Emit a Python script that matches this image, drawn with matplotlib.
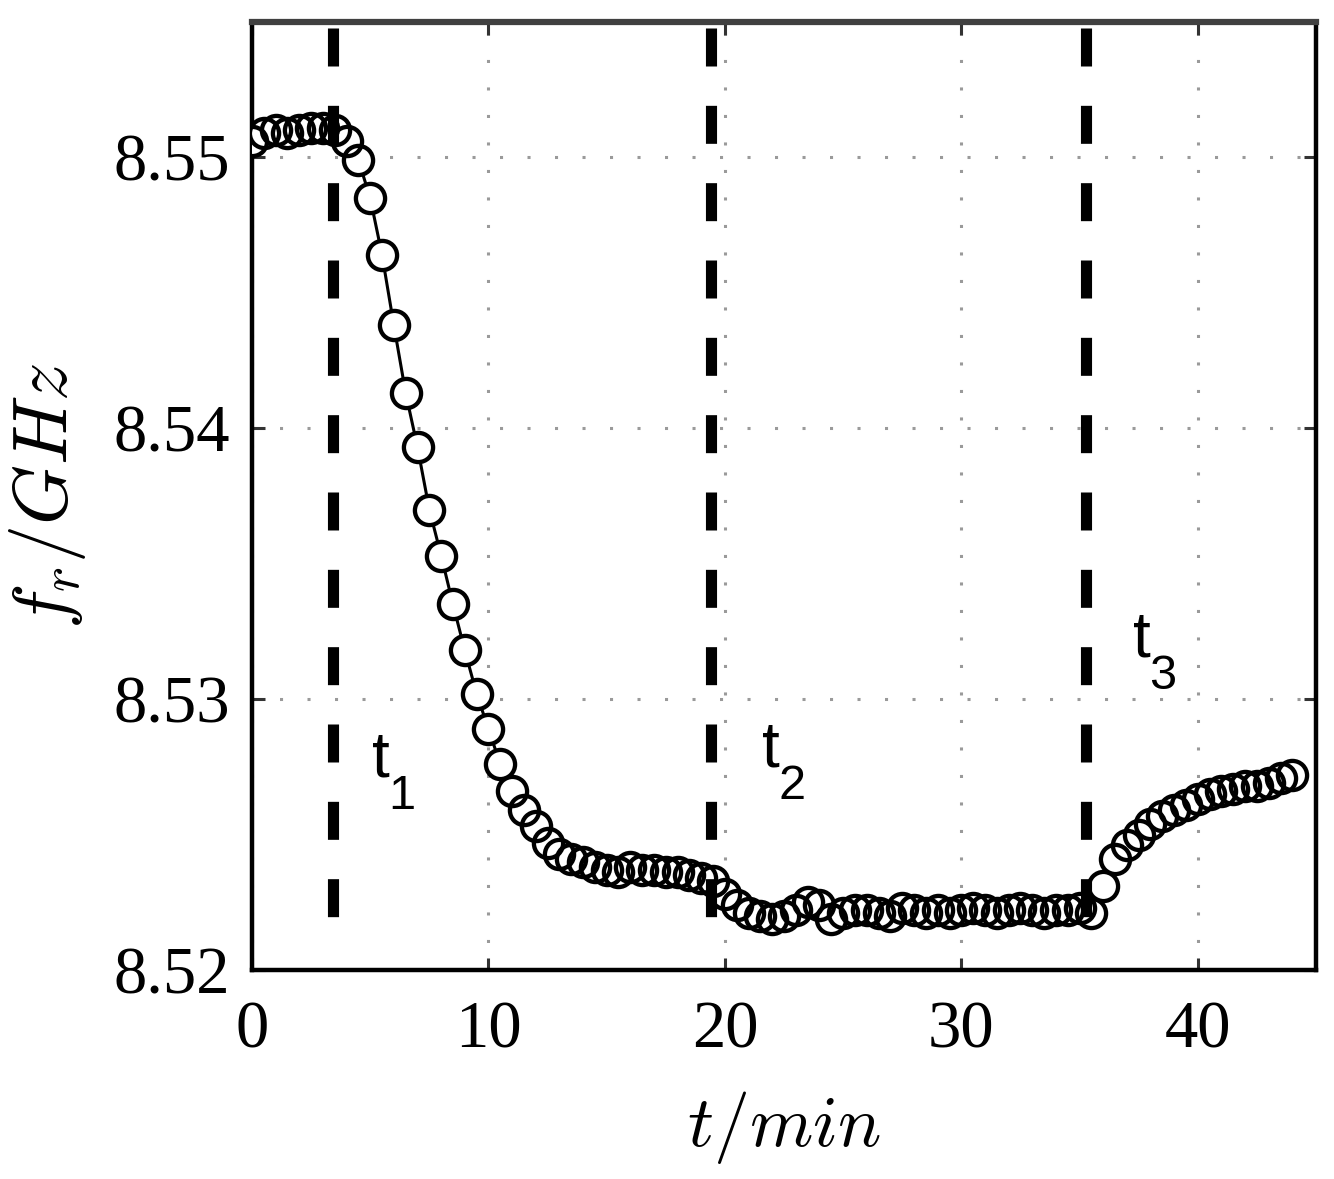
import matplotlib
matplotlib.use('Agg')
import matplotlib.pyplot as plt

# ---------------- data ----------------
time_min = [0.0, 0.5, 1.0, 1.5, 2.0, 2.5, 3.0, 3.5, 4.0, 4.5,
            5.0, 5.5, 6.0, 6.5, 7.0, 7.5, 8.0, 8.5, 9.0, 9.5,
            10.0, 10.5, 11.0, 11.5, 12.0, 12.5, 13.0, 13.5, 14.0, 14.5,
            15.0, 15.5, 16.0, 16.5, 17.0, 17.5, 18.0, 18.5, 19.0, 19.5,
            20.0, 20.5, 21.0, 21.5, 22.0, 22.5, 23.0, 23.5, 24.0, 24.5,
            25.0, 25.5, 26.0, 26.5, 27.0, 27.5, 28.0, 28.5, 29.0, 29.5,
            30.0, 30.5, 31.0, 31.5, 32.0, 32.5, 33.0, 33.5, 34.0, 34.5,
            35.0, 35.5, 36.0, 36.5, 37.0, 37.5, 38.0, 38.5, 39.0, 39.5,
            40.0, 40.5, 41.0, 41.5, 42.0, 42.5, 43.0, 43.5, 44.0]

freq_ghz = [8.5506, 8.5509, 8.5510, 8.5509, 8.5510, 8.5511, 8.5511, 8.5510, 8.5506, 8.5499,
            8.5485, 8.5464, 8.5438, 8.5413, 8.5393, 8.5370, 8.5353, 8.5335, 8.5318, 8.5302,
            8.5289, 8.5276, 8.5266, 8.5259, 8.5253, 8.5247, 8.5243, 8.5241, 8.5240, 8.5238,
            8.5237, 8.5236, 8.5238, 8.5237, 8.5237, 8.5236, 8.5236, 8.5235, 8.5234, 8.5233,
            8.5228, 8.5224, 8.5221, 8.5220, 8.5219, 8.5220, 8.5222, 8.5225, 8.5224, 8.5219,
            8.5221, 8.5222, 8.5222, 8.5221, 8.5220, 8.5223, 8.5222, 8.5221, 8.5222, 8.5221,
            8.5222, 8.5223, 8.5222, 8.5221, 8.5222, 8.5223, 8.5222, 8.5221, 8.5222, 8.5222,
            8.5223, 8.5221, 8.5231, 8.5241, 8.5246, 8.5250, 8.5254, 8.5257, 8.5259, 8.5261,
            8.5263, 8.5265, 8.5266, 8.5267, 8.5268, 8.5268, 8.5269, 8.5271, 8.5272]

event_times = [3.42, 19.43, 35.28]
event_subscripts = ['1', '2', '3']

x_ticks = [0, 10, 20, 30, 40]
x_tick_labels = ['0', '10', '20', '30', '40']
y_ticks = [8.52, 8.53, 8.54, 8.55]
y_tick_labels = ['8.52', '8.53', '8.54', '8.55']

# ---------------- figure ----------------
W, H = 1334, 1179
fig = plt.figure(figsize=(W / 100, H / 100), dpi=100)
ax = fig.add_axes([252 / W, 209 / H, 1064 / W, 948 / H])

ax.set_xlim(0, 45)
ax.set_ylim(8.52, 8.555)

# grid
ax.grid(True, color='#9a9a9a', linestyle=(0, (1, 8)), linewidth=2.2, zorder=1)
ax.set_axisbelow(True)

# data: line, white fill, hollow rings
ax.plot(time_min, freq_ghz, '-', color='black', lw=2.2, zorder=3)
ax.plot(time_min, freq_ghz, 'o', ms=21, mfc='white', mec='none', zorder=4)
ax.plot(time_min, freq_ghz, 'o', ms=21, mfc='none', mec='black', mew=3.1, zorder=5)

# event dashed lines (drawn top to bottom so the dash starts at top)
for xe in event_times:
    ax.plot([xe, xe], [8.55477, 8.52196], color='black', lw=8,
            linestyle=(0, (3.42, 3.54)), solid_capstyle='butt', zorder=6)

# event labels t_1, t_2, t_3
label_pos = [(5.08, 8.52713), (21.59, 8.52750), (37.26, 8.53156)]
for (xl, yl), sub in zip(label_pos, event_subscripts):
    ax.text(xl, yl, 't', fontsize=46, family='Liberation Sans',
            ha='left', va='baseline', zorder=7)
    ax.annotate(sub, xy=(xl, yl), xytext=(11.5, -23), textcoords='offset points',
                fontsize=35, family='Liberation Sans', ha='left', va='baseline', zorder=7)

# ticks
ax.set_xticks(x_ticks)
ax.set_xticklabels(x_tick_labels)
ax.set_yticks(y_ticks)
ax.set_yticklabels(y_tick_labels)
ax.tick_params(direction='in', length=9, width=2.2, color='#333333',
               top=True, right=True, labelsize=48)
ax.tick_params(axis='x', pad=22)
ax.tick_params(axis='y', pad=16)
for lab in ax.get_xticklabels() + ax.get_yticklabels():
    lab.set_family('Liberation Serif')

# spines
for s in ['left', 'bottom', 'right']:
    ax.spines[s].set_linewidth(3.2)
    ax.spines[s].set_color('black')
ax.spines['top'].set_linewidth(4.5)
ax.spines['top'].set_color('#404040')

# axis labels
ax.set_xlabel('$t/min$', fontsize=52, math_fontfamily='cm')
ax.set_ylabel('$f_r/GHz$', fontsize=55, math_fontfamily='cm')
ax.xaxis.set_label_coords(0.5, -0.125)
ax.yaxis.set_label_coords(-0.154, 0.5)

fig.savefig('out.png', dpi=100)
